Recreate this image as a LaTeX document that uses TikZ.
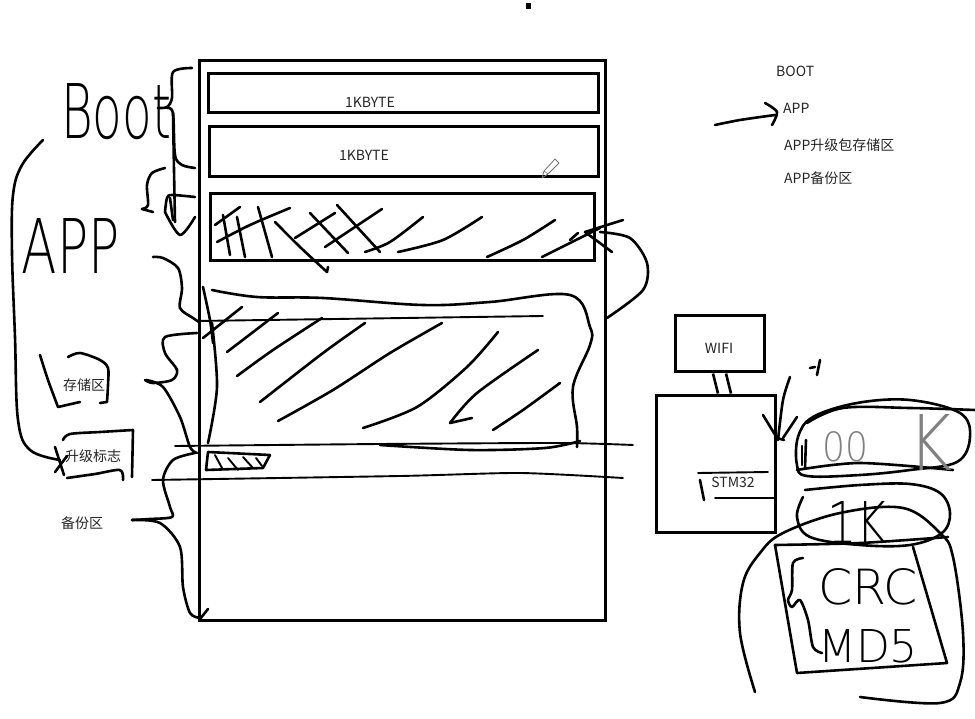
\documentclass[tikz,border=0pt]{standalone}
\usepackage{fontspec}
\usepackage{graphicx}
\newfontfamily\cjk{Noto Sans CJK SC}
\IfFontExistsTF{DejaVu Sans ExtraLight}
  {\newfontfamily\hand{DejaVu Sans ExtraLight}}
  {\newcommand\hand{\sffamily}}
\usetikzlibrary{calc}
\tikzset{
  pen/.style={line width=2.6pt, line cap=round, line join=round},
  thinpen/.style={line width=1.9pt, line cap=round, line join=round},
  frame/.style={draw, line width=3pt, inner sep=0pt},
  lbl/.style={font=\cjk\fontsize{14}{16}\selectfont, text=black!85, inner sep=0pt},
  hw/.style={inner sep=0pt, font=\hand\fontsize{40}{40}\selectfont},
}
\begin{document}
\begin{tikzpicture}[x=1pt,y=-1pt]
\useasboundingbox (0,0) rectangle (975,719);
\fill[white] (0,0) rectangle (975,719);

% top dot
\fill (526,3) rectangle (531,9);

% ===== memory map =====
\node[frame, minimum width=406pt, minimum height=559pt] (flash) at (402,340.5) {};
\node[frame, minimum width=390pt, minimum height=39pt] (kb1) at (403,93.5) {};
\node[frame, minimum width=389pt, minimum height=50pt] (kb2) at (403.5,152) {};
\node[frame, minimum width=384pt, minimum height=67pt] (app) at (402,227.5) {};
\node[lbl] (t1) at (370,102) {1KBYTE};
\node[lbl] (t2) at (364,155) {1KBYTE};

% pencil cursor
\draw[line width=0.8pt, black!55, line join=round] (542,178) -- (544,171) -- (555,159) -- (559,163) -- (548,174) -- cycle;
\draw[line width=0.6pt, black!55] (544,171) -- (548,174);

% hatching in app box
\draw[pen] (215,225) -- (240,207);
\draw[pen] plot[smooth] coordinates {(217,242) (250,225) (290,208)};
\draw[pen] (223,215) -- (230,255);
\draw[pen] (237,217) -- (245,257);
\draw[pen] (258,207) -- (272,257);
\draw[pen] plot[smooth] coordinates {(275,222) (300,247) (327,272)} -- (328,267);
\draw[pen] (295,238) -- (335,213);
\draw[pen] (310,213) -- (348,253);
\draw[pen] (337,205) -- (380,252);
\draw[pen] (325,247) -- (382,209);
\draw[pen] plot[smooth] coordinates {(365,252) (390,242) (423,217)};
\draw[pen] plot[smooth] coordinates {(398,252) (443,240) (482,217)};
\draw[pen] plot[smooth] coordinates {(487,257) (523,240) (555,220)};
\draw[pen] plot[smooth] coordinates {(542,257) (580,238) (600,228)};
% arrow on right of app box
\draw[pen] (585,232) -- (623,220);
\draw[pen] (585,232) -- (612,252);
\draw[pen] plot[smooth] coordinates {(600,232) (630,238) (647,263) (643,290) (607,318)};
\draw[pen] (570,240) -- (578,233);

% freehand storage region
\draw[pen] plot[smooth, tension=0.6] coordinates {(212,290) (257,297) (323,298) (423,305) (490,302) (570,295) (590,327) (590,345) (573,387) (577,427) (577,447)};
\draw[pen] plot[smooth] coordinates {(203,287) (210,320) (213,343)};
\draw[pen] plot[smooth] coordinates {(212,323) (217,387) (208,443)};
\draw[thinpen] (197,321) -- (543,316);
\draw[thinpen] plot[smooth, tension=0.4] coordinates {(175,446) (380,444) (560,443) (633,445)};
\draw[pen] plot[smooth, tension=0.5] coordinates {(380,445) (470,450) (545,448) (580,441)};
\draw[thinpen] plot[smooth, tension=0.4] coordinates {(152,480) (400,476) (520,473) (623,478)};
% hatching of storage region
\draw[pen] (203,338) -- (242,307);
\draw[pen] (227,352) -- (278,313);
\draw[pen] plot[smooth] coordinates {(237,376) (273,350) (322,318)};
\draw[pen] plot[smooth] coordinates {(260,402) (323,353) (365,323)};
\draw[pen] plot[smooth] coordinates {(278,421) (333,390) (390,353) (442,323)};
\draw[pen] plot[smooth] coordinates {(363,428) (417,407) (467,367) (498,332)};
\draw[pen] (450,423) -- (472,418);
\draw[pen] plot[smooth] coordinates {(450,423) (477,393) (538,350)};
\draw[pen] plot[smooth] coordinates {(493,430) (523,410) (560,383)};
% small flag patch
\draw[pen] (208,452) -- (270,455) -- (263,468) -- (206,470) -- cycle;
\draw[thinpen] (215,455) -- (222,468);
\draw[thinpen] (228,458) -- (238,470);
\draw[thinpen] (243,457) -- (253,468);
\draw[thinpen] (256,458) -- (262,466);

% ===== left braces and labels =====
\node[hw] (boot) at (116,112) {\resizebox{110pt}{55pt}{Boot}};
\node[hw] (apphw) at (71,246) {\resizebox{98pt}{55pt}{APP}};
\node[lbl] (cun) at (84,385) {存储区};
\node[lbl] (flag) at (93,456) {升级标志};
\node[lbl] (bak) at (82,523) {备份区};

% Boot brace
\draw[pen] plot[smooth] coordinates {(192,68) (173,72) (172,98) (167,107) (158,108)};
\draw[pen] plot[smooth] coordinates {(167,108) (173,113) (175,155) (182,165) (195,168)};
\draw[pen] plot[smooth] coordinates {(173,113) (174,170) (175,222)};
% upper APP bracket and scribble
\draw[pen] plot[smooth] coordinates {(165,168) (152,173) (147,185) (148,205) (142,209)};
\draw[pen] (142,209) -- (153,212);
\draw[pen] plot[smooth] coordinates {(165,212) (167,198) (172,195) (195,197)};
\draw[pen] plot[smooth] coordinates {(165,212) (180,235) (195,217)};
\draw[pen] (170,198) -- (173,220);
% APP brace
\draw[pen] plot[smooth] coordinates {(153,257) (163,258) (178,268) (182,288) (180,308) (193,318) (199,322)};
% storage brace
\draw[pen] plot[smooth] coordinates {(197,333) (165,337) (165,353) (177,370) (172,380) (153,383) (145,380)};
\draw[pen] plot[smooth] coordinates {(146,380) (163,387) (180,417) (190,447) (197,453)};
% backup brace
\draw[pen] plot[smooth] coordinates {(195,453) (173,460) (163,480) (170,507) (172,517) (150,519) (132,520)};
\draw[pen] plot[smooth] coordinates {(132,520) (160,523) (180,547) (183,587) (190,613) (200,618)};
\draw[pen] (200,619) -- (208,609);

% big loop on the left
\draw[pen] plot[smooth, tension=0.6] coordinates {(43,140) (22,165) (13,195) (12,253) (15,337) (18,420) (30,450) (60,460)};
\draw[pen] (55,447) -- (64,475);
\draw[pen] (55,472) -- (67,456);
% brackets around labels
\draw[pen] plot[smooth] coordinates {(40,355) (48,380) (58,407)} -- (80,402);
\draw[pen] plot[smooth] coordinates {(68,357) (80,353) (100,360) (108,368) (108,385) (107,402)} -- (100,403);
\draw[pen] plot[smooth] coordinates {(63,440) (70,434) (100,432) (133,430)} -- (132,477);
\draw[pen] plot[smooth] coordinates {(67,478) (95,474) (120,470) (123,480)};

% ===== right legend =====
\node[lbl, anchor=west] (lboot) at (776,71) {BOOT};
\node[lbl, anchor=west] (lapp) at (783,108) {APP};
\node[lbl, anchor=west] (lup) at (784,145) {APP升级包存储区};
\node[lbl, anchor=west] (lbk) at (784,178) {APP备份区};
\draw[pen] plot[smooth] coordinates {(715,125) (740,120) (775,115)};
\draw[pen] plot[smooth] coordinates {(765,103) (777,112) (772,125)};

% ===== WIFI / STM32 =====
\node[frame, minimum width=89pt, minimum height=56pt] (wifi) at (719.5,344) {};
\node[lbl] (wifit) at (719,348) {WIFI};
\node[frame, minimum width=119pt, minimum height=137pt] (stm) at (715.5,463.5) {};
\node[lbl] (stmt) at (733,482) {STM32};
\draw[line width=2.6pt] ($(wifi.south)+(-6.5,0)$) -- ($(stm.north)+(2.5,0)$);
\draw[line width=2.6pt] ($(wifi.south)+(6.5,0)$) -- ($(stm.north)+(15.5,0)$);
\draw[thinpen] (698,473) -- (768,472);
\draw[thinpen] (715,498) -- (775,498);
\draw[pen] (700,480) -- (704,500);
% arrow into STM32
\draw[pen] plot[smooth] coordinates {(790,377) (783,400) (778,440)};
\draw[pen] (763,415) -- (777,438) -- (784,440);
\draw[pen] (797,417) -- (783,438);
% tick mark
\draw[pen] (810,368) -- (815,367);
\draw[pen] (820,360) -- (817,375);

% ===== right ovals =====
\draw[pen] plot[smooth cycle, tension=0.6] coordinates {(798,437) (813,417) (857,403) (910,400) (960,413) (970,437) (957,462) (910,470) (860,475) (807,476) (797,465)};
\draw[pen] plot[smooth, tension=0.6] coordinates {(807,423) (843,408) (910,408) (975,410)};
\draw[pen] plot[smooth] coordinates {(797,470) (860,463) (953,470)};
\draw[pen] (802,446) -- (802,465);
\draw[pen] (806,440) -- (805,468);
\node[hw, text=black!50] (zz) at (845,447) {\resizebox{46pt}{30pt}{00}};
\node[hw, text=black!50] (kk) at (930,442) {\resizebox{44pt}{56pt}{K}};

\draw[pen] plot[smooth, tension=0.6] coordinates {(805,490) (860,485) (910,484) (940,493) (950,513) (942,533) (910,545) (860,545) (810,537) (797,517) (803,497)};
\node[hw] (onek) at (857,522) {\resizebox{60pt}{42pt}{1K}};

% CRC box and surrounding loop
\draw[pen] plot[smooth] coordinates {(775,545) (860,543) (948,537)};
\draw[pen] (775,545) -- (797,673) -- (947,663) -- (913,547);
\draw[pen] plot[smooth, tension=0.6] coordinates {(755,692) (740,633) (743,583) (760,553) (783,533) (840,513) (903,508) (940,533) (953,557) (963,633) (960,683) (940,703) (860,697)};
\draw[pen] plot[smooth] coordinates {(803,558) (793,563) (792,590) (788,600) (792,607) (800,600) (808,620) (813,647) (822,653)};
\node[hw] (crc) at (868,587) {\resizebox{100pt}{36pt}{CRC}};
\node[hw] (md5) at (868,646) {\resizebox{100pt}{33pt}{MD5}};
\end{tikzpicture}
\end{document}
